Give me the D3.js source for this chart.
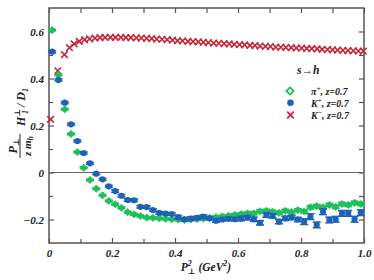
<!DOCTYPE html>
<html>
<head>
<meta charset="utf-8">
<script src="https://cdn.jsdelivr.net/npm/d3@7"></script>
<style>
  body { margin: 0; background: #fff; }
  text { font-family: "Liberation Serif", "DejaVu Serif", serif; font-weight: bold; font-style: italic; fill: #222; }
</style>
</head>
<body>
<script>
// P_perp^2 bins for pi+ and K+
var pt2 = [0.01,0.03,0.05,0.07,0.09,0.11,0.13,0.15,0.17,0.19,
           0.21,0.23,0.25,0.27,0.29,0.31,0.33,0.35,0.37,0.39,
           0.41,0.43,0.45,0.47,0.49,0.51,0.53,0.55,0.57,0.59,
           0.61,0.63,0.65,0.67,0.69,0.71,0.73,0.75,0.77,0.79,
           0.81,0.83,0.85,0.87,0.89,0.91,0.93,0.95,0.97,0.99];

var piPlus = [0.606,0.415,0.269,0.164,0.087,0.020,-0.032,-0.069,-0.097,-0.121,
              -0.135,-0.150,-0.169,-0.178,-0.185,-0.192,-0.193,-0.195,-0.197,-0.199,
              -0.200,-0.202,-0.200,-0.198,-0.196,-0.193,-0.190,-0.187,-0.184,-0.180,
              -0.177,-0.174,-0.174,-0.165,-0.163,-0.167,-0.172,-0.163,-0.168,-0.160,
              -0.166,-0.148,-0.143,-0.148,-0.138,-0.146,-0.134,-0.138,-0.129,-0.134];
var piPlusErr = [0.003,0.003,0.003,0.003,0.003,0.003,0.003,0.003,0.003,0.003,
                 0.004,0.004,0.004,0.004,0.004,0.004,0.004,0.004,0.004,0.004,
                 0.005,0.005,0.005,0.005,0.005,0.005,0.005,0.005,0.005,0.005,
                 0.006,0.006,0.006,0.006,0.006,0.006,0.006,0.006,0.006,0.006,
                 0.007,0.007,0.007,0.007,0.007,0.007,0.007,0.007,0.007,0.007];

var kPlus = [0.514,0.394,0.297,0.205,0.134,0.083,0.039,-0.005,-0.029,-0.059,
             -0.079,-0.099,-0.117,-0.118,-0.146,-0.147,-0.160,-0.172,-0.175,-0.177,
             -0.190,-0.199,-0.196,-0.193,-0.188,-0.195,-0.205,-0.200,-0.197,-0.199,
             -0.196,-0.192,-0.199,-0.214,-0.181,-0.185,-0.209,-0.195,-0.191,-0.200,
             -0.209,-0.188,-0.223,-0.167,-0.202,-0.199,-0.174,-0.174,-0.199,-0.171];
var kPlusErr = [0.004,0.004,0.004,0.004,0.004,0.004,0.004,0.004,0.004,0.004,
                0.005,0.005,0.005,0.005,0.005,0.005,0.005,0.005,0.005,0.005,
                0.007,0.007,0.007,0.007,0.007,0.007,0.007,0.007,0.007,0.007,
                0.009,0.009,0.009,0.009,0.009,0.009,0.009,0.009,0.009,0.009,
                0.012,0.012,0.012,0.012,0.012,0.012,0.012,0.012,0.012,0.012];

// K- has its own, finer binning
var pt2Km = [0.005,0.028,0.049,0.065,0.080,0.096,0.113,0.129,0.146,0.162,
             0.178,0.195,0.211,0.228,0.244,0.260,0.277,0.293,0.310,0.326,
             0.342,0.359,0.375,0.392,0.408,0.424,0.441,0.457,0.474,0.490,
             0.506,0.523,0.539,0.556,0.572,0.588,0.605,0.621,0.638,0.654,
             0.670,0.687,0.703,0.720,0.736,0.752,0.769,0.785,0.802,0.818,
             0.834,0.851,0.867,0.884,0.900,0.916,0.933,0.949,0.966,0.982,0.998];
var kMinus = [0.226,0.433,0.502,0.531,0.547,0.558,0.565,0.569,0.572,0.574,
              0.575,0.575,0.575,0.575,0.574,0.574,0.573,0.572,0.571,0.570,
              0.568,0.567,0.565,0.563,0.561,0.560,0.558,0.557,0.556,0.554,
              0.553,0.551,0.550,0.548,0.547,0.545,0.544,0.543,0.541,0.540,
              0.538,0.537,0.536,0.534,0.533,0.532,0.531,0.530,0.529,0.528,
              0.527,0.526,0.524,0.523,0.522,0.521,0.520,0.519,0.518,0.517,0.516];

var xMajor = [0, 0.2, 0.4, 0.6, 0.8, 1.0];
var xMinor = [0.1, 0.3, 0.5, 0.7, 0.9];
var yMajor = [-0.2, 0, 0.2, 0.4, 0.6];
var yMinor = [-0.1, 0.1, 0.3, 0.5];

var green = "#1fbf5a", blue = "#1e62b5", red = "#c4263a", axisCol = "#555";

var svg = d3.select("body").append("svg")
    .attr("width", 374).attr("height", 280);

var x = d3.scaleLinear().domain([0, 1]).range([49, 364]);
var y = d3.scaleLinear().domain([-0.3, 0.7]).range([243, 8]);

var fmt = (d) => d === 0 ? "0" : d3.format(".1f")(d);

// axes, ticks pointing inward on all four sides
function addAxis(axis, tr) {
  var g = svg.append("g").attr("transform", tr).call(axis);
  g.select(".domain").remove();
  g.selectAll("line").attr("stroke", axisCol).attr("stroke-width", 1.2);
  g.selectAll("text").attr("font-size", 11).attr("font-family", null).attr("fill", null);
  return g;
}
addAxis(d3.axisBottom(x).tickValues(xMajor).tickSize(-5).tickPadding(6).tickFormat(fmt), "translate(0,243)");
addAxis(d3.axisBottom(x).tickValues(xMinor).tickSize(-4).tickFormat(""), "translate(0,243)");
addAxis(d3.axisTop(x).tickValues(xMajor.concat(xMinor)).tickSize(-5).tickFormat(""), "translate(0,8)");
addAxis(d3.axisLeft(y).tickValues(yMajor).tickSize(-5).tickPadding(5).tickFormat(fmt), "translate(49,0)");
addAxis(d3.axisLeft(y).tickValues(yMinor).tickSize(-4).tickFormat(""), "translate(49,0)");
addAxis(d3.axisRight(y).tickValues(yMajor.concat(yMinor)).tickSize(-5).tickFormat(""), "translate(364,0)");

svg.append("rect")
    .attr("x", x(0)).attr("y", y(0.7))
    .attr("width", x(1) - x(0)).attr("height", y(-0.3) - y(0.7))
    .attr("fill", "none").attr("stroke", axisCol).attr("stroke-width", 1.5);

svg.append("line")
    .attr("x1", x(0)).attr("x2", x(1))
    .attr("y1", y(0)).attr("y2", y(0))
    .attr("stroke", "#666").attr("stroke-width", 1.2);

// error bars with caps
function errBars(xs, vals, errs, col) {
  var g = svg.append("g").attr("stroke", col).attr("stroke-width", 1.6);
  xs.forEach((p, i) => {
    var cx = x(p), y1 = y(vals[i] + errs[i]), y2 = y(vals[i] - errs[i]);
    g.append("line").attr("x1", cx).attr("x2", cx).attr("y1", y1).attr("y2", y2);
    g.append("line").attr("x1", cx - 4).attr("x2", cx + 4).attr("y1", y1).attr("y2", y1);
    g.append("line").attr("x1", cx - 4).attr("x2", cx + 4).attr("y1", y2).attr("y2", y2);
  });
}

var diamond = (s) => `M0,${-s}L${s},0L0,${s}L${-s},0Z`;
var cross = (s) => `M${-s},${-s}L${s},${s}M${-s},${s}L${s},${-s}`;

// K-
svg.append("g").selectAll("path")
    .data(pt2Km).enter().append("path")
    .attr("d", cross(3.3))
    .attr("transform", (d, i) => `translate(${x(d)},${y(kMinus[i])})`)
    .attr("stroke", red).attr("stroke-width", 1.6).attr("fill", "none");

// pi+
errBars(pt2, piPlus, piPlusErr, green);
svg.append("g").selectAll("path")
    .data(pt2).enter().append("path")
    .attr("d", diamond(3.6))
    .attr("transform", (d, i) => `translate(${x(d)},${y(piPlus[i])})`)
    .attr("fill", green).attr("stroke", green).attr("stroke-width", 0.8);

// K+
errBars(pt2, kPlus, kPlusErr, blue);
svg.append("g").selectAll("circle")
    .data(pt2).enter().append("circle")
    .attr("cx", (d) => x(d))
    .attr("cy", (d, i) => y(kPlus[i]))
    .attr("r", 3.1)
    .attr("fill", blue);

// legend
svg.append("text").attr("x", 297).attr("y", 74).attr("font-size", 11.5).text("s→h");
svg.append("path").attr("d", diamond(3.6)).attr("transform", "translate(290,91)")
    .attr("fill", "none").attr("stroke", green).attr("stroke-width", 1.8);
svg.append("circle").attr("cx", 290.5).attr("cy", 102.7).attr("r", 3.3).attr("fill", blue);
svg.append("path").attr("d", cross(3.3)).attr("transform", "translate(290.5,115)")
    .attr("stroke", red).attr("stroke-width", 1.8);

var legNames = [["π", "+"], ["K", "+"], ["K", "−"]];
var legY = [95, 106.5, 118.5];
legNames.forEach((n, i) => {
  var t = svg.append("text").attr("x", 311).attr("y", legY[i]).attr("font-size", 10);
  t.append("tspan").text(n[0]);
  t.append("tspan").attr("dy", -4).attr("font-size", 7).text(n[1]);
  t.append("tspan").attr("dy", 4).text(", z=0.7");
});

// x title
var xt = svg.append("text").attr("x", 206).attr("y", 271)
    .attr("text-anchor", "middle").attr("font-size", 11.5);
xt.append("tspan").text("P");
xt.append("tspan").attr("dy", -5).attr("font-size", 8).text("2");
xt.append("tspan").attr("dx", -4).attr("dy", 8).attr("font-size", 8).text("⊥");
xt.append("tspan").attr("dy", -3).text(" (GeV");
xt.append("tspan").attr("dy", -5).attr("font-size", 8).text("2");
xt.append("tspan").attr("dy", 5).text(")");

// y title
var yl = svg.append("g").attr("transform", "translate(26,146) rotate(-90)");
var num = yl.append("text").attr("x", 0).attr("y", -9).attr("text-anchor", "middle").attr("font-size", 12);
num.append("tspan").text("P");
num.append("tspan").attr("dy", 2).attr("font-size", 8).text("⊥");
yl.append("line").attr("x1", -12).attr("x2", 12).attr("y1", -6).attr("y2", -6)
    .attr("stroke", "#222").attr("stroke-width", 1);
var den = yl.append("text").attr("x", 0).attr("y", 5).attr("text-anchor", "middle").attr("font-size", 11);
den.append("tspan").text("z m");
den.append("tspan").attr("dy", 2).attr("font-size", 8).text("h");
var hd = yl.append("text").attr("x", 20).attr("y", -1).attr("font-size", 12);
hd.append("tspan").text("H");
hd.append("tspan").attr("dy", -5).attr("font-size", 8).text("⊥");
hd.append("tspan").attr("dx", -5).attr("dy", 8).attr("font-size", 8).text("1");
hd.append("tspan").attr("dy", -3).text(" / D");
hd.append("tspan").attr("dy", 3).attr("font-size", 8).text("1");
</script>
</body>
</html>
